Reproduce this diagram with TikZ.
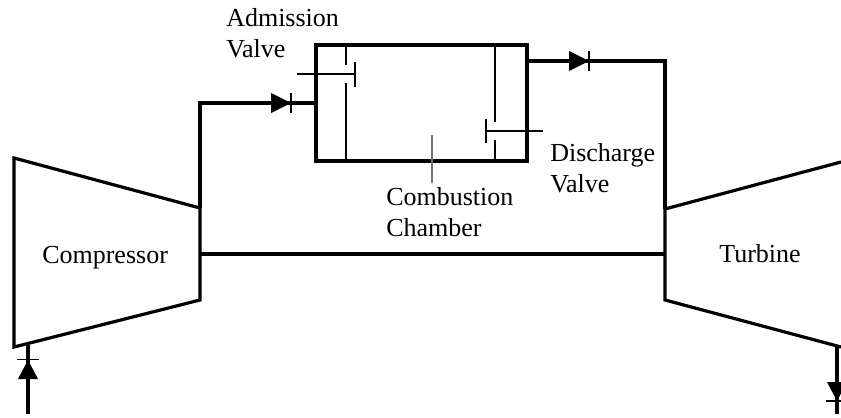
\documentclass[tikz,border=0pt]{standalone}
\usepackage{fontspec}
\setmainfont{Liberation Serif}
\begin{document}
\begin{tikzpicture}[x=0.75pt,y=-0.75pt,
  pipe/.style={line width=2.4pt,line join=miter},
  thin wall/.style={line width=1.3pt},
  rod/.style={line width=1.1pt},
  pointer/.style={line width=0.9pt,draw=black!55},
  head/.style={fill=black,draw=none},
  bar/.style={line width=1.2pt},
  lbl/.style={font=\fontsize{19.5pt}{23.2pt}\selectfont,inner sep=0pt,align=left,anchor=west}]
\useasboundingbox (0,0) rectangle (841,417);
% machines
\draw[pipe] (14,158) -- (200,208) -- (200,300) -- (14,347) -- cycle;
\draw[pipe] (841,162) -- (665,209) -- (665,300) -- (841,347);
% named points
\coordinate (inA) at (28,345);
\coordinate (inB) at (28,414);
\coordinate (outA) at (837,347);
\coordinate (outB) at (837,414);
\coordinate (cOut) at (200,208);
\coordinate (tIn) at (665,209);
\coordinate (sh1) at (200,254);
\coordinate (sh2) at (665,254);
\node[draw,line width=2.4pt,outer sep=0pt,inner sep=0pt,minimum width=158.25pt,minimum height=87pt] (box) at (421.5,103) {};
\coordinate (boxIn) at (316,103);
\coordinate (boxOut) at (527,61);
% pipes
\draw[pipe] (cOut) -- (200,103) -- (boxIn);
\draw[pipe] (boxOut) -- (665,61) -- (tIn);
\draw[pipe] (sh1) -- (sh2);
\draw[pipe] (inA) -- (inB);
\draw[pipe] (outA) -- (outB);
% check valves
\fill[head] (271,93) -- (291,103) -- (271,113) -- cycle;
\draw[bar] (291,93) -- (291,113);
\fill[head] (569,51) -- (589,61) -- (569,71) -- cycle;
\draw[bar] (589,51) -- (589,71);
\fill[head] (18,379) -- (28,360) -- (38,379) -- cycle;
\draw[bar] (17,359.5) -- (39,359.5);
\fill[head] (827,382) -- (837,401) -- (847,382) -- cycle;
\draw[bar] (826,401) -- (848,401);
% chamber valves
\draw[thin wall] (346,45) -- (346,65);
\draw[thin wall] (346,83) -- (346,161);
\draw[rod] (297,74) -- (355,74);
\draw[rod] (355,62) -- (355,87);
\draw[thin wall] (495,45) -- (495,122);
\draw[thin wall] (495,140) -- (495,161);
\draw[rod] (486,131) -- (543,131);
\draw[rod] (486,119) -- (486,143);
% pointer
\draw[pointer] (432,135) -- (432,183);
% labels
\node[lbl] (t1) at (226,33) {Admission\\Valve};
\node[lbl] (t2) at (550,168) {Discharge\\Valve};
\node[lbl] (t3) at (386,212) {Combustion\\Chamber};
\node[lbl] (t4) at (42,258) {Compressor};
\node[lbl] (t5) at (719,254) {Turbine};
\end{tikzpicture}
\end{document}
